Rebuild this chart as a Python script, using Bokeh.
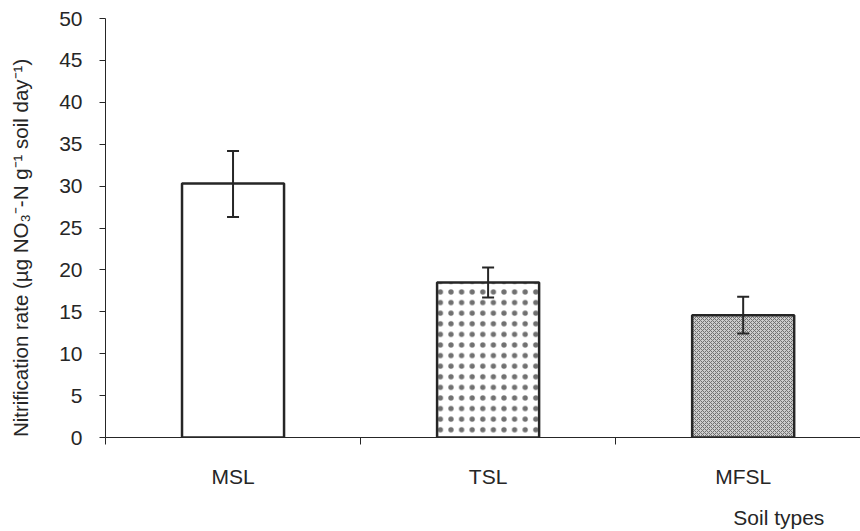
from bokeh.plotting import figure
from bokeh.models import ColumnDataSource, FixedTicker, Whisker, TeeHead
from bokeh.embed import file_html
from bokeh.resources import INLINE

categories = ["MSL", "TSL", "MFSL"]
rates = [30.3, 18.5, 14.6]
err_low = [26.3, 16.7, 12.4]
err_high = [34.2, 20.3, 16.8]
y_ticks = [0, 5, 10, 15, 20, 25, 30, 35, 40, 45, 50]
y_title = "Nitrification rate (µg NO\u2083\u207b-N g\u207b\u00b9 soil day\u207b\u00b9)"
x_title = "Soil types"

xs = list(range(len(categories)))
src = ColumnDataSource(dict(x=xs, top=rates, lo=err_low, hi=err_high))

p = figure(width=860, height=531, output_backend="svg", toolbar_location=None,
           x_range=(-0.5, 2.46), y_range=(0, 50),
           min_border_left=105, min_border_right=0, min_border_top=18, min_border_bottom=93)
p.outline_line_color = None
p.xgrid.visible = False
p.ygrid.visible = False

font = "Liberation Sans"
fs = "21px"
dark = "#262626"
fills = ["white", "white", "#cccccc"]
hatches = [" ", ".", "x"]
hcols = ["white", "#707070", "#707070"]
scales = [4, 10.6, 4]
weights = [1, 1.1, 1]
for i in range(len(categories)):
    p.vbar(x=[xs[i]], top=[rates[i]], bottom=0, width=0.4,
           fill_color=fills[i], line_color=dark, line_width=2.5,
           hatch_pattern=hatches[i], hatch_color=hcols[i],
           hatch_scale=scales[i], hatch_weight=weights[i])

w = Whisker(source=src, base="x", lower="lo", upper="hi", line_color=dark, line_width=2,
            level="overlay",
            upper_head=TeeHead(size=12, line_width=2, line_color=dark),
            lower_head=TeeHead(size=12, line_width=2, line_color=dark))
p.add_layout(w)

NB = "\u00a0"

xa = p.xaxis[0]
xa.ticker = FixedTicker(ticks=xs, minor_ticks=[-0.5, 0.5, 1.5, 2.5])
xa.major_label_overrides = {i: c for i, c in enumerate(categories)}
xa.major_tick_line_color = None
xa.major_tick_in = 0
xa.major_tick_out = 0
xa.minor_tick_in = 0
xa.minor_tick_out = 7
xa.minor_tick_line_color = dark
xa.axis_line_color = dark
xa.major_label_standoff = 20
xa.major_label_text_font = font
xa.major_label_text_font_size = fs
xa.major_label_text_color = dark
xa.axis_label = x_title + NB * 28
xa.axis_label_align = "end"
xa.axis_label_standoff = 15
xa.axis_label_text_font = font
xa.axis_label_text_font_size = fs
xa.axis_label_text_font_style = "normal"
xa.axis_label_text_color = dark

ya = p.yaxis[0]
ya.ticker = FixedTicker(ticks=y_ticks)
ya.minor_tick_line_color = None
ya.major_tick_in = 0
ya.major_tick_out = 6
ya.major_tick_line_color = dark
ya.axis_line_color = dark
ya.major_label_standoff = 17
ya.major_label_text_font = font
ya.major_label_text_font_size = fs
ya.major_label_text_color = dark
ya.axis_label = y_title + NB * 7
ya.axis_label_standoff = 24
ya.axis_label_text_font = font
ya.axis_label_text_font_size = "20.5px"
ya.axis_label_text_font_style = "normal"
ya.axis_label_text_color = dark

open("out.html", "w").write(file_html(p, INLINE))
